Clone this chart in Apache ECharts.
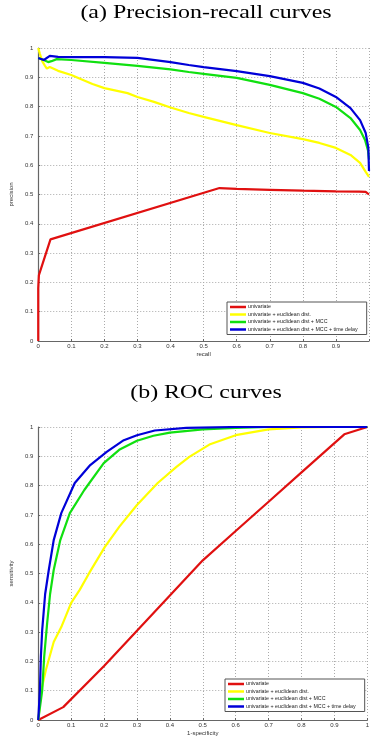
<!DOCTYPE html>
<html>
<head>
<meta charset="utf-8">
<script src="https://cdn.jsdelivr.net/npm/echarts@6/dist/echarts.min.js"></script>
<style>
  html, body { margin: 0; padding: 0; background: #fff; }
  #chart { width: 372px; height: 738px; }
</style>
</head>
<body>
<div id="chart"></div>
<script>
// series names (same for both plots)
const seriesNames = [
  'univariate',
  'univariate + euclidean dist.',
  'univariate + euclidean dist + MCC',
  'univariate + euclidean dist + MCC + time delay'
]
const seriesColors = ['#e01010', '#ffff00', '#10e010', '#0000d8']

// tick labels
const xTicksPR = ['0', '0.1', '0.2', '0.3', '0.4', '0.5', '0.6', '0.7', '0.8', '0.9', '']
const xTicksROC = ['0', '0.1', '0.2', '0.3', '0.4', '0.5', '0.6', '0.7', '0.8', '0.9', '1']
const yTicks = ['0', '0.1', '0.2', '0.3', '0.4', '0.5', '0.6', '0.7', '0.8', '0.9', '1']

// (a) precision-recall: [recall, precision]
const prUnivariate = [[0, 0], [0, 0.18], [0.002, 0.225], [0.037, 0.347], [0.548, 0.522], [0.6, 0.519],
  [0.7, 0.516], [0.8, 0.513], [0.9, 0.511], [0.97, 0.51], [0.99, 0.509], [1.0, 0.5]]
const prEuclid = [[0, 1.0], [0.005, 0.98], [0.012, 0.955], [0.02, 0.94], [0.026, 0.93], [0.035, 0.935],
  [0.045, 0.93], [0.06, 0.922], [0.1, 0.908], [0.13, 0.893], [0.164, 0.877], [0.2, 0.863], [0.27, 0.846],
  [0.3, 0.833], [0.35, 0.816], [0.4, 0.797], [0.455, 0.778], [0.5, 0.765], [0.6, 0.737], [0.7, 0.71],
  [0.8, 0.689], [0.85, 0.676], [0.9, 0.659], [0.944, 0.635], [0.973, 0.608], [0.99, 0.577], [1.0, 0.56]]
const prMcc = [[0, 0.966], [0.015, 0.96], [0.03, 0.952], [0.04, 0.955], [0.056, 0.962], [0.1, 0.959],
  [0.2, 0.949], [0.3, 0.939], [0.4, 0.927], [0.455, 0.918], [0.5, 0.912], [0.6, 0.898], [0.7, 0.874],
  [0.8, 0.846], [0.85, 0.827], [0.9, 0.799], [0.944, 0.761], [0.973, 0.72], [0.988, 0.686],
  [0.997, 0.65], [1.0, 0.62]]
const prTimeDelay = [[0, 0.966], [0.017, 0.959], [0.035, 0.973], [0.06, 0.97], [0.1, 0.969], [0.2, 0.969],
  [0.3, 0.966], [0.4, 0.952], [0.455, 0.942], [0.5, 0.935], [0.6, 0.921], [0.7, 0.904], [0.8, 0.881],
  [0.85, 0.862], [0.9, 0.833], [0.944, 0.795], [0.973, 0.754], [0.99, 0.71], [0.998, 0.66], [1.0, 0.58]]

// (b) ROC: [1-specificity, sensitivity]
const rocUnivariate = [[0, 0], [0.076, 0.044], [0.2, 0.184], [0.3, 0.305], [0.4, 0.425], [0.5, 0.545],
  [0.6, 0.645], [0.7, 0.745], [0.8, 0.845], [0.9, 0.945], [0.93, 0.975], [1, 1]]
const rocEuclid = [[0, 0], [0.009, 0.1], [0.023, 0.17], [0.047, 0.266], [0.07, 0.317], [0.1, 0.4],
  [0.126, 0.444], [0.155, 0.502], [0.202, 0.59], [0.246, 0.659], [0.3, 0.734], [0.363, 0.809],
  [0.42, 0.864], [0.459, 0.898], [0.52, 0.94], [0.6, 0.972], [0.7, 0.992], [0.8, 0.999], [0.9, 1], [1, 1]]
const rocMcc = [[0, 0], [0.012, 0.1], [0.018, 0.215], [0.027, 0.33], [0.036, 0.43], [0.047, 0.512],
  [0.067, 0.614], [0.096, 0.706], [0.14, 0.785], [0.199, 0.877], [0.246, 0.922], [0.3, 0.953],
  [0.35, 0.97], [0.4, 0.981], [0.5, 0.992], [0.6, 0.997], [0.7, 1], [1, 1]]
const rocTimeDelay = [[0, 0], [0.005, 0.1], [0.008, 0.215], [0.012, 0.307], [0.021, 0.43], [0.032, 0.512],
  [0.047, 0.614], [0.07, 0.706], [0.111, 0.809], [0.158, 0.87], [0.208, 0.915], [0.26, 0.955],
  [0.3, 0.972], [0.354, 0.988], [0.45, 0.997], [0.6, 1], [1, 1]]

const prData = [prUnivariate, prEuclid, prMcc, prTimeDelay]
const rocData = [rocUnivariate, rocEuclid, rocMcc, rocTimeDelay]

const chart = echarts.init(document.getElementById('chart'))

const tickText = { fontSize: 6, color: '#333', fontFamily: 'Liberation Sans' }

function makeX (gridIndex, ticks, name) {
  return {
    type: 'value', gridIndex, min: 0, max: 1, interval: 0.1,
    name, nameLocation: 'middle', nameGap: 10,
    nameTextStyle: { fontSize: 6, color: '#333', fontFamily: 'Liberation Sans' },
    axisLine: { show: true, lineStyle: { color: '#666', width: 1.2 } },
    axisTick: { show: true, inside: true, length: 2, lineStyle: { color: '#666' } },
    axisLabel: { ...tickText, margin: 2, formatter: v => ticks[Math.round(v * 10)] },
    splitLine: { show: true, lineStyle: { color: '#aaa', type: [1, 2], width: 1 } }
  }
}

function makeY (gridIndex, name) {
  return {
    type: 'value', gridIndex, min: 0, max: 1, interval: 0.1,
    name, nameLocation: 'middle', nameGap: 17, nameRotate: 90,
    nameTextStyle: { fontSize: 6, color: '#333', fontFamily: 'Liberation Sans' },
    axisLine: { show: true, lineStyle: { color: '#666', width: 1.2 } },
    axisTick: { show: true, inside: true, length: 2, lineStyle: { color: '#666' } },
    axisLabel: { ...tickText, margin: 5, formatter: v => yTicks[Math.round(v * 10)] },
    splitLine: { show: true, lineStyle: { color: '#aaa', type: [1, 2], width: 1 } }
  }
}

function makeLegend (left, top) {
  return {
    left, top, orient: 'vertical',
    data: seriesNames,
    icon: 'rect', itemWidth: 16, itemHeight: 2.5, itemGap: 1.5,
    padding: [2, 9, 2, 3],
    borderColor: '#555', borderWidth: 1, backgroundColor: '#fff',
    textStyle: { fontSize: 5.3, lineHeight: 6, color: '#222', fontFamily: 'Liberation Sans', padding: [0, 0, 0, -3] },
    selectedMode: false
  }
}

// captions: the figure is stretched sideways, so the text is scaled a little
function caption (text, y) {
  return {
    type: 'text', x: 206, y, scaleX: 1.26, scaleY: 1,
    style: { text, font: '19px "Liberation Serif"', fill: '#000', textAlign: 'center', textVerticalAlign: 'middle' }
  }
}

const series = []
prData.forEach((d, i) => series.push({
  name: seriesNames[i], type: 'line', xAxisIndex: 0, yAxisIndex: 0, data: d,
  showSymbol: false, symbol: 'none', lineStyle: { width: 2.2, color: seriesColors[i] },
  itemStyle: { color: seriesColors[i] }, z: 2 + i, animation: false
}))
rocData.forEach((d, i) => series.push({
  name: seriesNames[i], type: 'line', xAxisIndex: 1, yAxisIndex: 1, data: d,
  showSymbol: false, symbol: 'none', lineStyle: { width: 2.2, color: seriesColors[i] },
  itemStyle: { color: seriesColors[i] }, z: 2 + i, animation: false
}))

chart.setOption({
  backgroundColor: '#fff',
  animation: false,
  graphic: [caption('(a) Precision-recall curves', 13), caption('(b) ROC curves', 393)],
  grid: [
    { left: 31, right: 1, top: 48, bottom: 397 },
    { left: 29, right: 1, top: 427, bottom: 18 }
  ],
  xAxis: [makeX(0, xTicksPR, 'recall'), makeX(1, xTicksROC, '1-specificity')],
  yAxis: [makeY(0, 'precision'), makeY(1, 'sensitivity')],
  legend: [makeLegend(227, 302), makeLegend(225, 679)],
  series
})

window.addEventListener('resize', () => chart.resize())
</script>
</body>
</html>
